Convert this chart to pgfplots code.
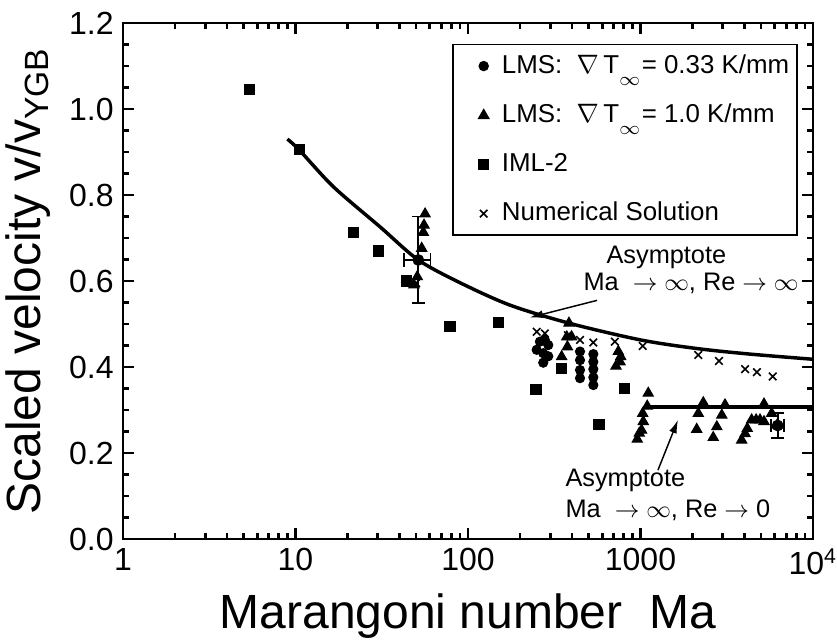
\documentclass[border=0pt]{standalone}
\usepackage{fontspec}
\setmainfont{Liberation Sans}
\usepackage{pgfplots}
\pgfplotsset{compat=1.18}
\usetikzlibrary{arrows.meta}

\newcommand{\Tinf}{$\nabla\,\mathrm{T}_{\lower3pt\hbox{$\scriptstyle\infty$}}$}
\pgfplotsset{lgimg/.style={legend image code/.code={
    \path (-10.3pt,0pt) (4.6pt,0pt);
    \draw[##1] plot coordinates {(0pt,0pt)};}}}

\begin{document}
\begin{tikzpicture}
\begin{axis}[
    scale only axis,
    width=258.75pt, height=193.5pt,
    xmode=log,
    xmin=1, xmax=10000,
    ymin=0, ymax=1.2,
    xtick={1,10,100,1000,10000},
    xticklabels={1,10,100,1000,10\textsuperscript{4}},
    ytick={0,0.2,0.4,0.6,0.8,1.0,1.2},
    minor y tick num=3,
    yticklabel style={/pgf/number format/.cd, fixed, fixed zerofill, precision=1},
    /pgf/number format/assume math mode=true,
    tick label style={font=\fontsize{12}{14}\selectfont},
    major tick length=4pt, minor tick length=2.2pt,
    every tick/.style={line width=1pt, black},
    axis line style={line width=1.1pt},
    xlabel={Marangoni number~~Ma},
    ylabel={Scaled velocity v/v\textsubscript{YGB}},
    label style={font=\fontsize{18}{20}\selectfont},
    legend cell align=left,
    legend style={at={(rel axis cs:0.978,0.959)}, anchor=north east,
        draw=black, line width=0.5pt, font=\fontsize{9.7}{12}\selectfont,
        row sep=6pt, inner xsep=1pt, inner ysep=1.7pt},
]

% LMS 0.33 K/mm
\addplot[only marks, mark=*, mark size=1.7pt, black, lgimg] table {
x y
250 0.440
261 0.459
279 0.463
292 0.451
273 0.432
273 0.410
292 0.425
446 0.436
446 0.416
446 0.393
446 0.374
533 0.430
533 0.412
533 0.395
533 0.376
533 0.358
};
\addlegendentry{LMS:~~\Tinf= 0.33 K/mm}

% LMS 1.0 K/mm
\addplot[only marks, mark=triangle*, mark size=2.2pt, black, lgimg] table {
x y
56.4 0.756
55.6 0.730
55.1 0.713
53.9 0.676
50.8 0.610
48.6 0.591
385 0.502
374 0.470
399 0.470
377 0.447
349 0.424
744 0.436
768 0.424
761 0.412
721 0.402
1109 0.339
1094 0.309
1030 0.292
1038 0.273
1015 0.253
984 0.246
958 0.232
2312 0.317
2163 0.292
2118 0.255
3090 0.312
2960 0.288
2770 0.261
2640 0.236
5200 0.314
4410 0.277
4680 0.277
4930 0.277
5200 0.273
5760 0.292
4160 0.257
4040 0.245
3860 0.230
6200 0.265
};
\addlegendentry{LMS:~~\Tinf= 1.0 K/mm}

% IML-2
\addplot[only marks, mark=square*, mark size=1.9pt, black, lgimg] table {
x y
5.4 1.046
10.5 0.905
21.8 0.712
30.2 0.670
44 0.600
78.7 0.495
150 0.504
248 0.347
349 0.397
575 0.267
806 0.350
};
\addlegendentry{IML-2}

% Numerical solution
\addplot[only marks, mark=x, mark size=2pt, black, mark options={line width=0.6pt}, lgimg] table {
x y
50 0.595
250 0.482
279 0.478
380 0.474
446 0.463
533 0.457
710 0.459
1030 0.449
2163 0.428
2850 0.414
4040 0.395
4730 0.388
5840 0.378
};
\addlegendentry{Numerical Solution}

% asymptote Re -> infinity
\addplot[black, line width=1.3pt, smooth, forget plot] table {
x y
8.97 0.930
10.5 0.905
16.6 0.819
30.9 0.726
51.5 0.649
89.9 0.596
175 0.544
385 0.502
1000 0.463
2118 0.443
4315 0.430
10000 0.418
};

% asymptote Re -> 0
\addplot[black, line width=1.3pt, forget plot] table {
x y
1125 0.307
10000 0.307
};

% error bars
\addplot[only marks, mark=none, forget plot,
    error bars/.cd, x dir=both, y dir=both, x explicit, y explicit,
    error bar style={line width=0.7pt, black},
    error mark options={line width=0.7pt, mark size=2.5pt, black, rotate=90}]
coordinates {
(51.5,0.649) +- (9.1,0.101)
(6240,0.264) +- (515,0.030)
};

\node[anchor=west, font=\fontsize{9.5}{11}\selectfont, inner sep=0pt] at (axis cs:631,0.655) {Asymptote};
\node[anchor=west, font=\fontsize{9.5}{11}\selectfont, inner sep=0pt] at (axis cs:464,0.595) {Ma~~$\rightarrow\infty$, Re $\rightarrow\infty$};
\draw[-{Latex[length=5pt,width=3pt]}, line width=0.55pt] (axis cs:560,0.555) -- (axis cs:228,0.515);

\node[anchor=west, font=\fontsize{9.5}{11}\selectfont, inner sep=0pt] at (axis cs:365,0.137) {Asymptote};
\node[anchor=west, font=\fontsize{9.5}{11}\selectfont, inner sep=0pt] at (axis cs:365,0.067) {Ma~~$\rightarrow\infty$, Re $\rightarrow$ 0};
\draw[-{Latex[length=5pt,width=3pt]}, line width=0.55pt] (axis cs:1262,0.160) -- (axis cs:1649,0.277);

\end{axis}
\pgfresetboundingbox
\path (current axis.south west) ++(-46.125pt,-38.25pt) rectangle ++(313.875pt,240.375pt);
\end{tikzpicture}
\end{document}
